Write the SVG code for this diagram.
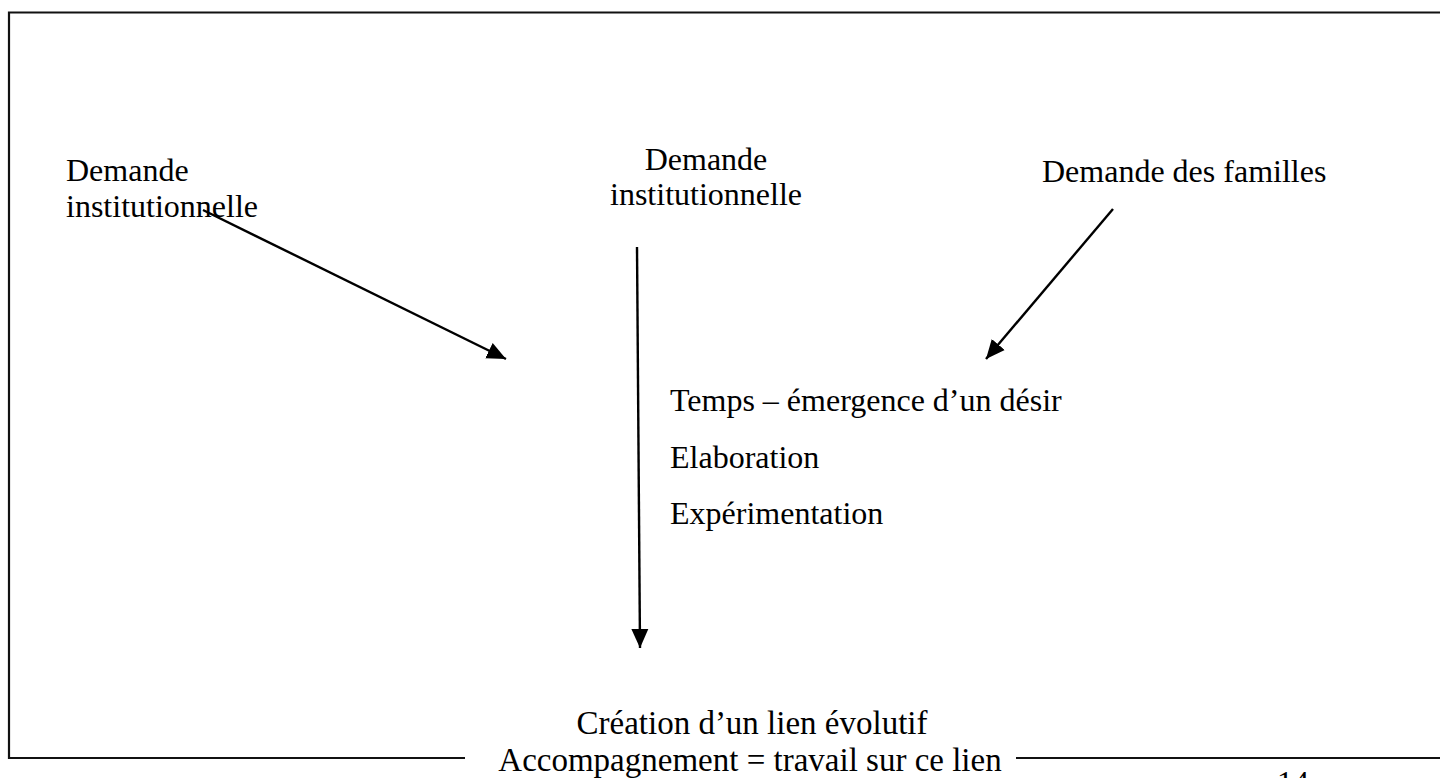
<svg xmlns="http://www.w3.org/2000/svg" width="1440" height="778" viewBox="0 0 1440 778">
<style>
  text { font-family: "Liberation Serif", "Times New Roman", serif; font-size: 32px; fill: #000; }
  .mid { text-anchor: middle; }
  .big { font-size: 33px; }
  .frame { fill: none; stroke: #111; stroke-width: 2.2; }
  .conn { fill: none; stroke: #000; stroke-width: 2.4; marker-end: url(#ah); }
</style>
<defs>
  <marker id="ah" markerUnits="userSpaceOnUse" markerWidth="20" markerHeight="20" viewBox="0 0 20 20" refX="19" refY="10" orient="auto">
    <path d="M0,1.5 L19,10 L0,18.5 Z" fill="#000"/>
  </marker>
</defs>
<rect width="1440" height="778" fill="#fff"/>
<g id="frame">
  <path class="frame" d="M1445,12.5 H9 V758 H465"/>
  <path class="frame" d="M1016,758 H1445"/>
</g>
<g id="connectors">
  <line class="conn" x1="203" y1="210" x2="506" y2="359"/>
  <line class="conn" x1="637" y1="247" x2="640" y2="648"/>
  <line class="conn" x1="1113" y1="209" x2="986" y2="359"/>
</g>
<g id="node-demande-inst-left">
  <text x="66" y="181">Demande</text>
  <text x="66" y="217">institutionnelle</text>
</g>
<g id="node-demande-inst-center">
  <text class="mid" x="706" y="170">Demande</text>
  <text class="mid" x="706" y="205">institutionnelle</text>
</g>
<g id="node-demande-familles">
  <text x="1042" y="182">Demande des familles</text>
</g>
<g id="node-etapes">
  <text x="670" y="411">Temps – émergence d’un désir</text>
  <text x="670" y="468">Elaboration</text>
  <text x="670" y="524">Expérimentation</text>
</g>
<g id="node-creation">
  <text class="mid big" x="752" y="734">Création d’un lien évolutif</text>
  <text class="mid big" x="750" y="771">Accompagnement = travail sur ce lien</text>
</g>
<g id="page-number">
  <text x="1277" y="793">14</text>
</g>
</svg>
